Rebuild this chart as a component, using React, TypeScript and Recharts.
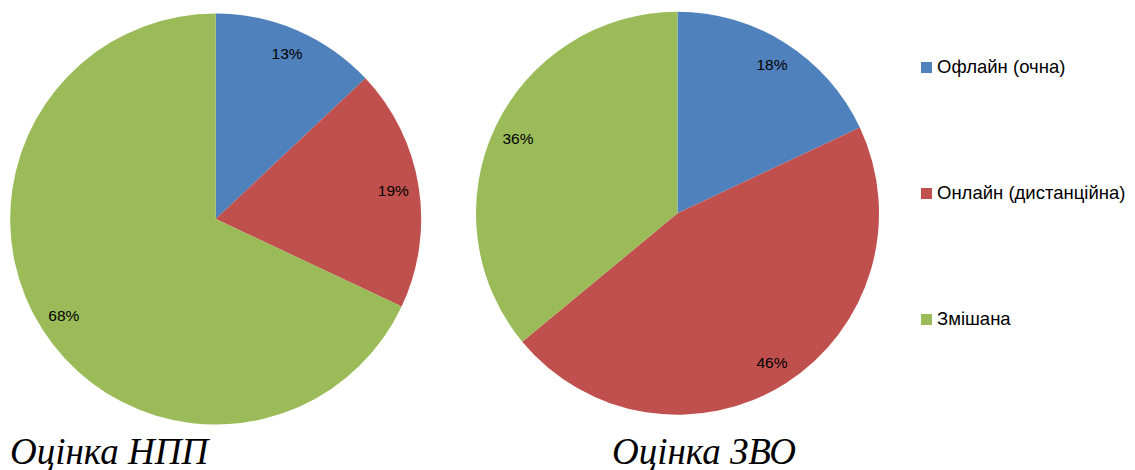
import { PieChart, Pie, Cell } from 'recharts';

const categories = ['Офлайн (очна)', 'Онлайн (дистанційна)', 'Змішана'];
const nppValues = [13, 19, 68];
const zvoValues = [18, 46, 36];
const chartTitles = ['Оцінка НПП', 'Оцінка ЗВО'];
const colors = ['#4F81BD', '#C0504D', '#9BBB59'];

const nppData = categories.map((name, i) => ({ name, value: nppValues[i] }));
const zvoData = categories.map((name, i) => ({ name, value: zvoValues[i] }));

const RAD = Math.PI / 180;

const renderLabel = (props: any) => {
  const { cx, cy, midAngle, outerRadius, value } = props;
  const r = outerRadius * 0.875;
  const x = cx + r * Math.cos(-midAngle * RAD);
  const y = cy + r * Math.sin(-midAngle * RAD);
  return (
    <text
      x={x}
      y={y}
      textAnchor="middle"
      dominantBaseline="central"
      fill="#000"
      fontSize={15.5}
      fontFamily="'Liberation Sans', Arial, sans-serif"
    >
      {`${value}%`}
    </text>
  );
};

// legend rows sit roughly level with each slice's label column
const legendTops = [56, 182, 308];

const titleStyle: React.CSSProperties = {
  position: 'absolute',
  top: 427,
  fontFamily: "'Liberation Serif', 'Times New Roman', serif",
  fontStyle: 'italic',
  fontSize: 37,
  lineHeight: '50px',
  color: '#000',
  whiteSpace: 'nowrap',
};

export default function App() {
  return (
    <div style={{ position: 'absolute', left: 0, top: 0, width: 1135, height: 470, background: '#fff', overflow: 'hidden' }}>
      <PieChart width={1135} height={470} margin={{ top: 0, right: 0, bottom: 0, left: 0 }}>
        <Pie
          data={nppData}
          dataKey="value"
          nameKey="name"
          cx={215.7}
          cy={219}
          outerRadius={205.5}
          startAngle={90}
          endAngle={-270}
          stroke="none"
          label={renderLabel}
          labelLine={false}
          isAnimationActive={false}
        >
          {nppData.map((d, i) => (
            <Cell key={d.name} fill={colors[i]} />
          ))}
        </Pie>
        <Pie
          data={zvoData}
          dataKey="value"
          nameKey="name"
          cx={677.5}
          cy={213.3}
          outerRadius={201.5}
          startAngle={90}
          endAngle={-270}
          stroke="none"
          label={renderLabel}
          labelLine={false}
          isAnimationActive={false}
        >
          {zvoData.map((d, i) => (
            <Cell key={d.name} fill={colors[i]} />
          ))}
        </Pie>
      </PieChart>
      {categories.map((name, i) => (
        <div
          key={name}
          style={{
            position: 'absolute',
            left: 921,
            top: legendTops[i],
            height: 22,
            display: 'flex',
            alignItems: 'center',
            fontFamily: "'Liberation Sans', Arial, sans-serif",
            fontSize: 18.5,
            color: '#000',
            whiteSpace: 'nowrap',
          }}
        >
          <span style={{ width: 11, height: 11, background: colors[i], display: 'inline-block', marginRight: 5 }} />
          <span>{name}</span>
        </div>
      ))}
      <div style={{ ...titleStyle, left: 10 }}>{chartTitles[0]}</div>
      <div style={{ ...titleStyle, left: 612 }}>{chartTitles[1]}</div>
    </div>
  );
}
